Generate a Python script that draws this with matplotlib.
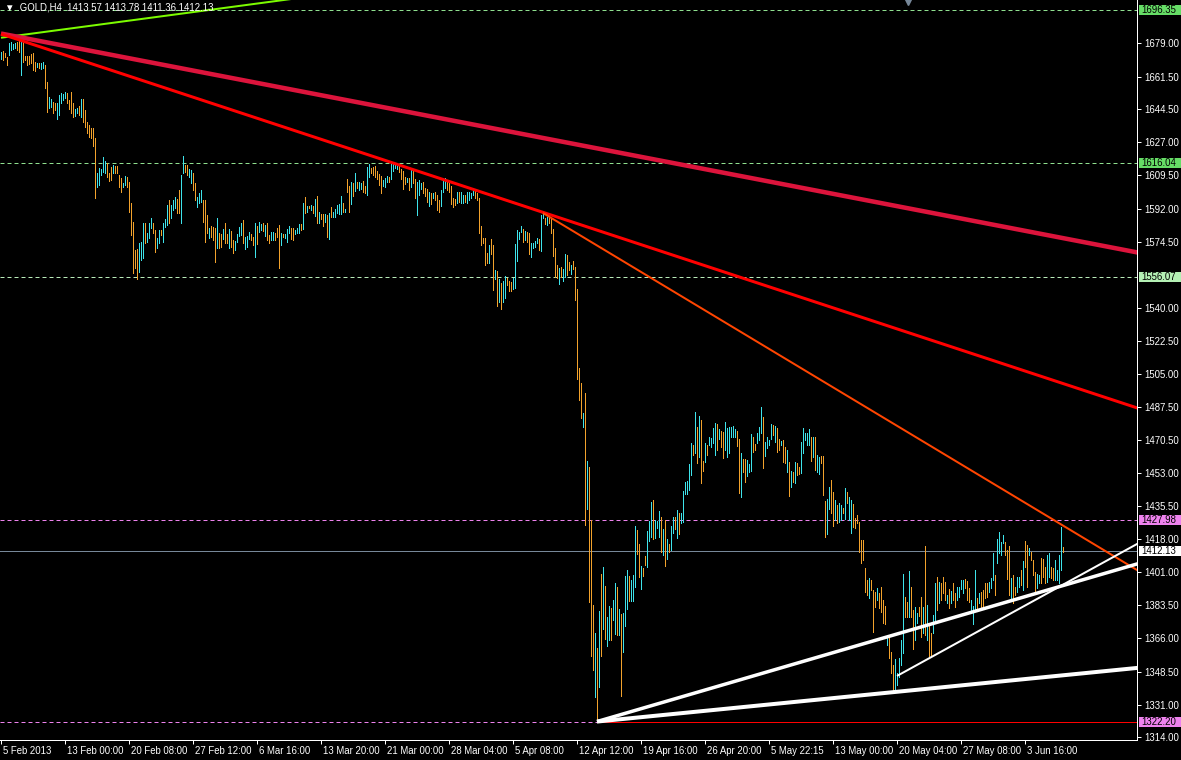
import numpy as np
import matplotlib
matplotlib.use("Agg")
import matplotlib.pyplot as plt
import matplotlib.transforms as mtransforms
from matplotlib.patches import Rectangle

# H4 bars (high / low), U = up bar, D = down bar
highs = [
    1674.2, 1674.9, 1674.0, 1671.9, 1678.9, 1679.6, 1678.6, 1678.9, 1679.6, 1680.7,
    1681.2, 1680.7, 1672.3, 1672.4, 1672.3, 1673.3, 1673.7, 1669.3, 1668.8, 1668.4,
    1668.8, 1669.1, 1667.5, 1658.8, 1650.5, 1649.5, 1648.2, 1647.4, 1647.4, 1651.8,
    1653.0, 1652.3, 1653.3, 1652.6, 1649.1, 1653.3, 1647.4, 1644.2, 1644.9, 1646.0,
    1649.5, 1649.5, 1643.9, 1637.7, 1636.0, 1634.2, 1634.2, 1629.0, 1610.6, 1613.2,
    1612.7, 1619.0, 1617.2, 1615.8, 1610.6, 1614.1, 1614.9, 1614.4, 1614.4, 1609.7,
    1607.9, 1605.3, 1609.2, 1608.8, 1606.2, 1595.1, 1585.2, 1570.2, 1570.6, 1573.7,
    1574.6, 1584.3, 1584.6, 1579.0, 1584.3, 1586.9, 1584.6, 1580.8, 1576.4, 1580.8,
    1580.8, 1584.3, 1586.4, 1593.9, 1596.5, 1593.9, 1596.5, 1598.3, 1596.9, 1601.8,
    1609.7, 1619.7, 1614.9, 1614.9, 1612.7, 1612.3, 1610.6, 1605.3, 1598.3, 1600.0,
    1601.8, 1596.5, 1596.5, 1588.6, 1581.6, 1582.9, 1582.5, 1581.6, 1586.9, 1579.0,
    1578.5, 1581.1, 1584.3, 1578.5, 1581.1, 1580.4, 1575.5, 1575.0, 1578.5, 1582.2,
    1584.3, 1586.0, 1577.3, 1577.6, 1579.5, 1578.7, 1577.3, 1584.3, 1582.9, 1584.8,
    1583.7, 1584.6, 1583.4, 1584.3, 1578.1, 1579.7, 1579.7, 1579.4, 1581.6, 1583.4,
    1579.0, 1578.7, 1578.5, 1581.5, 1582.9, 1582.0, 1581.6, 1580.8, 1581.8, 1583.9,
    1583.9, 1595.1, 1598.3, 1593.4, 1593.4, 1593.9, 1593.4, 1596.9, 1598.6, 1590.2,
    1589.2, 1589.2, 1589.2, 1588.7, 1589.9, 1593.0, 1590.4, 1592.0, 1593.9, 1594.4,
    1598.6, 1595.1, 1591.8, 1607.6, 1604.1, 1606.2, 1605.3, 1610.9, 1606.2, 1605.8,
    1605.3, 1606.7, 1603.9, 1614.1, 1615.5, 1613.5, 1613.7, 1614.4, 1612.0, 1610.2,
    1609.3, 1607.1, 1607.9, 1609.3, 1608.8, 1616.7, 1615.8, 1615.5, 1615.8, 1615.5,
    1612.8, 1611.8, 1608.5, 1607.9, 1607.9, 1613.5, 1612.3, 1607.6, 1606.2, 1607.1,
    1605.7, 1606.2, 1602.7, 1602.2, 1600.9, 1600.0, 1600.0, 1600.9, 1599.2, 1596.5,
    1601.8, 1607.0, 1608.0, 1607.0, 1606.0, 1604.0, 1597.4, 1596.9, 1600.9, 1600.9,
    1600.9, 1599.2, 1599.2, 1600.9, 1600.9, 1600.0, 1602.5, 1601.5, 1600.0, 1597.4,
    1582.9, 1576.7, 1576.4, 1568.8, 1572.9, 1575.9, 1572.9, 1559.7, 1559.2, 1554.8,
    1553.1, 1554.1, 1556.6, 1555.3, 1554.1, 1553.6, 1555.3, 1573.4, 1580.8, 1579.9,
    1582.9, 1581.1, 1580.4, 1579.9, 1579.0, 1573.7, 1574.1, 1575.2, 1576.4, 1575.9,
    1588.7, 1589.5, 1586.9, 1587.8, 1587.4, 1586.4, 1581.1, 1571.1, 1562.4, 1560.6,
    1561.1, 1560.1, 1568.1, 1567.6, 1564.1, 1562.4, 1564.6, 1561.1, 1549.6, 1508.0,
    1500.5, 1484.5, 1495.1, 1459.4, 1456.3, 1428.2, 1383.5, 1368.8, 1361.0, 1380.4,
    1399.8, 1403.7, 1393.5, 1377.4, 1383.0, 1381.8, 1386.2, 1394.9, 1393.2, 1381.4,
    1378.6, 1379.1, 1398.8, 1401.9, 1398.8, 1396.7, 1399.3, 1425.1, 1423.0, 1415.6,
    1404.0, 1402.8, 1409.3, 1422.4, 1427.9, 1437.5, 1438.8, 1428.2, 1427.9, 1433.0,
    1430.0, 1423.5, 1428.2, 1418.2, 1415.6, 1425.1, 1430.0, 1430.0, 1433.5, 1431.7,
    1431.7, 1443.5, 1448.4, 1448.7, 1457.7, 1468.9, 1467.7, 1484.9, 1477.3, 1482.9,
    1480.8, 1459.4, 1468.5, 1467.7, 1472.1, 1471.5, 1476.8, 1479.1, 1478.7, 1475.9,
    1475.0, 1474.7, 1479.6, 1476.4, 1477.3, 1477.3, 1477.7, 1475.9, 1475.2, 1470.7,
    1463.3, 1460.3, 1460.3, 1459.8, 1457.7, 1473.5, 1472.1, 1468.2, 1474.2, 1477.0,
    1487.5, 1482.6, 1469.4, 1472.1, 1470.3, 1478.7, 1478.2, 1477.7, 1476.4, 1470.7,
    1469.9, 1470.3, 1466.8, 1465.0, 1458.9, 1454.2, 1453.6, 1458.9, 1458.0, 1456.3,
    1469.4, 1476.4, 1473.8, 1473.8, 1475.9, 1472.1, 1472.1, 1472.1, 1462.4, 1461.5,
    1461.9, 1461.9, 1438.2, 1439.1, 1445.8, 1449.3, 1442.8, 1438.7, 1436.1, 1437.0,
    1436.1, 1434.4, 1444.9, 1443.1, 1440.5, 1438.7, 1436.5, 1429.1, 1430.9, 1427.3,
    1417.7, 1417.7, 1402.8, 1396.7, 1397.6, 1396.7, 1391.4, 1390.5, 1392.3, 1389.7,
    1392.8, 1386.2, 1383.0, 1367.7, 1366.0, 1359.0, 1352.0, 1355.0, 1347.6, 1355.5,
    1365.1, 1399.8, 1387.9, 1385.3, 1401.6, 1393.2, 1380.9, 1382.6, 1379.1, 1382.6,
    1387.6, 1382.6, 1414.7, 1383.5, 1373.5, 1368.6, 1378.3, 1395.3, 1398.1, 1395.8,
    1394.9, 1398.1, 1395.8, 1388.8, 1391.8, 1391.1, 1395.3, 1389.7, 1392.8, 1392.8,
    1396.7, 1396.7, 1397.0, 1396.3, 1392.3, 1386.2, 1383.0, 1401.9, 1387.0, 1390.0,
    1390.5, 1391.4, 1394.9, 1395.3, 1395.8, 1397.6, 1410.7, 1399.3, 1418.1, 1422.1,
    1416.8, 1420.4, 1416.8, 1412.5, 1414.3, 1397.6, 1399.3, 1393.2, 1398.4, 1398.4,
    1401.9, 1406.8, 1417.4, 1415.1, 1413.7, 1411.6, 1407.2, 1401.1, 1399.8, 1399.3,
    1408.1, 1407.5, 1403.7, 1409.8, 1410.7, 1403.7, 1402.8, 1407.2, 1401.9, 1409.8,
    1424.4, 1413.8,
]
lows = [
    1670.7, 1670.2, 1671.9, 1667.5, 1672.8, 1675.4, 1675.8, 1676.3, 1675.4, 1674.5,
    1662.3, 1669.3, 1670.2, 1667.5, 1668.1, 1668.4, 1664.9, 1664.6, 1666.3, 1665.8,
    1665.6, 1666.1, 1655.3, 1643.0, 1644.7, 1645.6, 1642.5, 1643.9, 1639.0, 1641.2,
    1647.4, 1649.1, 1650.0, 1647.4, 1644.2, 1642.1, 1640.0, 1640.7, 1642.1, 1641.2,
    1640.4, 1637.7, 1635.1, 1632.0, 1629.8, 1629.0, 1624.9, 1597.4, 1603.5, 1604.4,
    1609.7, 1611.4, 1610.6, 1608.8, 1606.7, 1607.1, 1610.6, 1610.6, 1610.6, 1603.5,
    1600.9, 1603.5, 1604.4, 1603.5, 1590.4, 1578.1, 1558.0, 1560.6, 1554.8, 1558.8,
    1565.0, 1565.9, 1573.7, 1574.6, 1576.4, 1581.6, 1579.0, 1569.4, 1571.1, 1573.7,
    1578.1, 1574.6, 1582.5, 1583.4, 1584.3, 1586.9, 1591.3, 1592.2, 1589.5, 1589.5,
    1584.3, 1610.6, 1611.4, 1609.7, 1608.8, 1605.3, 1601.8, 1596.5, 1593.0, 1594.8,
    1595.7, 1585.2, 1574.6, 1579.0, 1576.4, 1577.2, 1575.5, 1564.1, 1571.1, 1571.1,
    1571.6, 1576.0, 1573.7, 1574.1, 1571.5, 1571.6, 1568.8, 1570.2, 1574.6, 1577.6,
    1578.1, 1573.7, 1570.9, 1571.6, 1576.2, 1575.5, 1572.9, 1566.7, 1573.4, 1579.9,
    1580.8, 1580.4, 1577.6, 1575.5, 1574.1, 1575.5, 1575.5, 1575.5, 1577.3, 1560.9,
    1572.9, 1576.9, 1576.6, 1574.6, 1579.4, 1575.9, 1575.5, 1578.7, 1579.0, 1579.4,
    1580.8, 1581.3, 1589.9, 1590.4, 1592.2, 1591.3, 1589.9, 1588.1, 1584.6, 1584.6,
    1586.5, 1583.0, 1584.8, 1576.9, 1576.0, 1587.4, 1587.4, 1587.8, 1589.9, 1589.2,
    1589.2, 1590.4, 1590.4, 1600.9, 1590.4, 1594.4, 1598.6, 1601.4, 1602.7, 1601.8,
    1602.2, 1600.9, 1600.4, 1599.2, 1608.8, 1610.6, 1609.7, 1608.5, 1607.4, 1604.4,
    1600.4, 1603.9, 1603.6, 1606.2, 1606.2, 1607.4, 1612.0, 1613.2, 1612.7, 1611.4,
    1607.4, 1602.3, 1605.0, 1606.2, 1601.8, 1603.6, 1605.7, 1597.8, 1588.7, 1599.2,
    1602.3, 1600.0, 1598.8, 1595.7, 1593.6, 1594.4, 1597.4, 1596.5, 1591.3, 1590.4,
    1593.4, 1601.0, 1603.0, 1602.0, 1601.0, 1594.4, 1593.0, 1593.9, 1594.8, 1595.7,
    1594.8, 1594.8, 1595.7, 1594.8, 1596.5, 1597.4, 1599.2, 1597.4, 1596.5, 1579.0,
    1572.9, 1573.7, 1562.4, 1563.6, 1563.6, 1568.1, 1549.2, 1554.8, 1540.8, 1543.1,
    1539.2, 1543.1, 1544.8, 1551.8, 1548.9, 1548.9, 1549.6, 1550.1, 1564.6, 1575.9,
    1579.9, 1574.6, 1575.5, 1574.6, 1568.1, 1566.7, 1571.1, 1572.0, 1573.7, 1570.2,
    1569.9, 1586.9, 1583.9, 1583.4, 1584.3, 1579.0, 1567.1, 1556.2, 1555.3, 1552.4,
    1556.2, 1554.1, 1555.9, 1557.1, 1559.7, 1557.6, 1560.1, 1543.9, 1502.2, 1491.3,
    1481.7, 1477.2, 1425.6, 1433.9, 1385.3, 1356.5, 1349.3, 1335.3, 1322.2, 1340.2,
    1356.7, 1370.7, 1365.6, 1362.1, 1365.1, 1365.1, 1375.6, 1368.1, 1367.7, 1367.7,
    1335.8, 1359.0, 1372.5, 1381.4, 1385.8, 1385.6, 1385.6, 1393.2, 1410.3, 1398.4,
    1391.8, 1398.8, 1404.6, 1403.7, 1417.4, 1419.5, 1418.2, 1419.0, 1424.2, 1419.5,
    1411.6, 1409.8, 1404.2, 1407.6, 1411.6, 1412.5, 1421.2, 1423.5, 1419.0, 1420.9,
    1426.5, 1427.0, 1441.7, 1441.7, 1444.0, 1451.9, 1462.4, 1463.3, 1458.4, 1461.5,
    1447.9, 1454.2, 1458.9, 1462.4, 1467.7, 1466.8, 1468.5, 1462.4, 1465.0, 1470.7,
    1466.8, 1460.7, 1465.0, 1461.5, 1463.6, 1472.1, 1471.7, 1471.7, 1467.1, 1442.6,
    1440.1, 1453.6, 1448.4, 1451.4, 1453.6, 1454.2, 1464.2, 1465.0, 1468.5, 1470.3,
    1473.8, 1455.7, 1462.1, 1465.9, 1467.7, 1470.7, 1472.9, 1469.4, 1464.2, 1465.0,
    1467.7, 1458.9, 1458.0, 1453.6, 1440.8, 1445.8, 1448.4, 1447.5, 1451.9, 1452.4,
    1452.8, 1463.3, 1470.3, 1467.7, 1467.7, 1459.4, 1461.5, 1454.5, 1453.6, 1452.4,
    1458.4, 1441.4, 1419.5, 1420.9, 1433.8, 1431.7, 1425.1, 1428.2, 1426.5, 1427.3,
    1428.2, 1432.1, 1428.6, 1437.0, 1428.2, 1421.2, 1424.7, 1423.8, 1426.8, 1411.6,
    1405.4, 1407.2, 1390.5, 1388.8, 1387.0, 1391.4, 1369.5, 1382.6, 1386.2, 1381.8,
    1380.0, 1373.9, 1373.5, 1362.5, 1355.5, 1347.6, 1338.8, 1338.8, 1341.4, 1345.8,
    1352.0, 1358.5, 1377.4, 1377.4, 1377.4, 1377.4, 1360.2, 1365.1, 1373.9, 1377.7,
    1366.9, 1368.6, 1367.7, 1365.1, 1356.3, 1357.2, 1368.6, 1375.6, 1380.9, 1384.4,
    1386.2, 1389.7, 1386.2, 1384.4, 1381.8, 1384.4, 1386.2, 1382.6, 1386.2, 1387.9,
    1391.8, 1389.7, 1392.3, 1386.2, 1385.3, 1379.2, 1373.5, 1380.9, 1380.9, 1384.4,
    1380.9, 1382.3, 1387.0, 1387.9, 1390.5, 1392.3, 1396.7, 1388.8, 1405.4, 1410.7,
    1409.8, 1416.0, 1409.8, 1397.0, 1388.8, 1386.5, 1384.4, 1388.8, 1390.5, 1393.2,
    1394.0, 1391.4, 1403.7, 1393.2, 1409.8, 1407.2, 1399.3, 1389.7, 1392.3, 1394.9,
    1394.9, 1398.4, 1394.9, 1395.8, 1398.4, 1397.6, 1396.7, 1396.7, 1396.7, 1394.9,
    1401.9, 1411.4,
]
dirs = "".join([
    "UDDDUUUUDD", "UDDDDDDDUD", "UUDDUUDDUU", "UUUDDDDUUD", "UDDDDDDDUU",
    "UUUDDDUDDD", "DUUDDDDDDU", "UUDUUUDDUU", "DUUUDUUUDD", "UUDDUUDDUU",
    "UDDDUDDDUD",
    "DUDDUDDUUU", "UDUUUDDUDU", "UDUDDUUDDD", "UDUUUDDUUU", "DUDUDUDUDU",
    "DDUDUDUUUU", "UDUDDUDUDU", "UDDUUDDDDD", "DUUUDUUUUD", "DDDUDUDDUU",
    "UDDDU",
    "DUDDDUUUDD", "DDDUDUUDUU", "UUDDDDDDDU", "DDUDUDUUDD", "DUUUUUDUDD",
    "UUUUDUUDUD", "DDDDUDUUDD", "UDDDDDUDUD", "DDUDU",
    "DUDUUDUUDU", "DUUUDUUUDD", "UDDUUUDUUU", "DUDUDUUDUD", "UUUUU",
    "UDUDUDDUDU", "UUUDUDDUUU", "UUUDDUDDUU", "UDDUUUDUUU", "UDUDDUDDUD",
    "UDUDDUUUUU", "DUDUUDDDUU", "DDUDUUDUDU", "UDDDD",
    "DDDDUDDDUD", "DDDUDDDUUU", "UUDDUDDUUD", "DUDUDDUUDU", "DDDUDUDDUU",
    "UUDDDUUUDU", "DDDDUUUDUU", "UUDDDUDDUU", "DUDDUDDDUU", "DDDUUDDUUU",
    "UD",
])

date_labels = ["5 Feb 2013", "13 Feb 00:00", "20 Feb 08:00", "27 Feb 12:00", "6 Mar 16:00",
               "13 Mar 20:00", "21 Mar 00:00", "28 Mar 04:00", "5 Apr 08:00", "12 Apr 12:00",
               "19 Apr 16:00", "26 Apr 20:00", "5 May 22:15", "13 May 00:00", "20 May 04:00",
               "27 May 08:00", "3 Jun 16:00"]
label_step = 32

price_ticks = [1679.00, 1661.50, 1644.50, 1627.00, 1609.50, 1592.00, 1574.50, 1540.00,
               1522.50, 1505.00, 1487.50, 1470.50, 1453.00, 1435.50, 1418.00, 1401.00,
               1383.50, 1366.00, 1348.50, 1331.00, 1314.00]

# horizontal levels and their colours
levels = [1696.35, 1616.04, 1556.07, 1427.98, 1412.13, 1322.20]
level_line = ['#8FE08F', '#8FE08F', '#B9EBB9', '#EE82EE', '#778899', '#EE82EE']
level_box = ['#66DD66', '#66DD66', '#B4F0B4', '#EE82EE', '#FFFFFF', '#EE82EE']

# trend lines: (bar0, price0, bar1, price1)
green_line = (0, 1681.9, 141, 1701.7)
crimson_line = (0, 1684.1, 568, 1569.0)
red_line = (0, 1683.9, 568, 1487.2)
orange_line = (271, 1589.7, 568, 1401.9)
white_low = (298, 1322.2, 568, 1350.4)
white_mid = (298, 1322.2, 568, 1405.1)
white_thin = (448, 1346.2, 568, 1415.6)

W, H = 1181, 760
fig = plt.figure(figsize=(W / 100, H / 100), dpi=100, facecolor='black')
ax = fig.add_axes([0, 20 / H, 1137 / W, 740 / H], facecolor='black')
px = 0.72  # one pixel in points

xmax = 568
ax.set_xlim(-0.5, xmax)
ax.set_ylim(1312.5, 1701.75)
per_px = (1701.75 - 1312.5) / 740  # price units per pixel

# horizontal levels
for p, lc in zip(levels, level_line):
    if p == 1412.13:
        ax.axhline(p, color=lc, lw=px, zorder=1)
    else:
        ax.axhline(p, color=lc, lw=px, ls=(0, (4, 3)), zorder=1)
ax.plot([298, xmax], [1322.20, 1322.20], color='#FF0000', lw=px, zorder=2)

# bars
n = min(len(highs), len(lows), len(dirs))
idx = np.arange(n)
hi = np.array(highs[:n])
lo = np.array(lows[:n])
up = np.array([c == 'U' for c in dirs[:n]])
ax.vlines(idx[up], lo[up], hi[up], color='#3EE3EA', lw=px, antialiased=False, zorder=3)
ax.vlines(idx[~up], lo[~up], hi[~up], color='#F2A22C', lw=px, antialiased=False, zorder=3)


def ray(line, color, width):
    b0, p0, b1, p1 = line
    slope = (p1 - p0) / (b1 - b0)
    ax.plot([b0, xmax + 5], [p0, p0 + slope * (xmax + 5 - b0)], color=color,
            lw=width * px, solid_capstyle='butt', zorder=4)


ray(green_line, '#7CFC00', 2)
ray(crimson_line, '#DC143C', 4.5)
ray(red_line, '#FF0000', 3)
ray(orange_line, '#FF4500', 2)
ray(white_low, '#FFFFFF', 4)
ray(white_mid, '#FFFFFF', 3.5)
ray(white_thin, '#FFFFFF', 2)

# axes frame
for s in ['top', 'left']:
    ax.spines[s].set_visible(False)
for s in ['right', 'bottom']:
    ax.spines[s].set_color('white')
    ax.spines[s].set_linewidth(px)

font = 'Liberation Sans'
ax.yaxis.tick_right()
ax.set_yticks(price_ticks)
ax.set_yticklabels(['%.2f' % t for t in price_ticks], fontsize=6.9, family=font, color='white')
ax.tick_params(axis='y', colors='white', length=3, width=px, pad=2)

ax.set_xticks(np.arange(len(date_labels)) * label_step)
ax.set_xticklabels(date_labels, fontsize=6.9, family=font, color='white', ha='left')
ax.tick_params(axis='x', colors='white', length=3, width=px, pad=1)
for lab in ax.get_xticklabels():
    lab.set_transform(lab.get_transform() + mtransforms.ScaledTranslation(2 / 100, 0, fig.dpi_scale_trans))

# level labels on the price scale
trans = mtransforms.blended_transform_factory(ax.transAxes, ax.transData)
x0 = 1139 / 1137
box_w = (W - 1139) / 1137
for p, bg in zip(levels, level_box):
    ax.add_patch(Rectangle((x0, p - 5 * per_px), box_w, 10 * per_px, transform=trans,
                           facecolor=bg, edgecolor='none', clip_on=False, zorder=9))
    ax.text(1141 / 1137, p, '%.2f' % p, transform=trans, fontsize=6.9, family=font,
            color='black', va='center', ha='left', zorder=10, clip_on=False)

# title and shift marker
ax.text(0.004, 0.997, u'\u25bc .GOLD,H4  1413.57 1413.78 1411.36 1412.13', transform=ax.transAxes,
        fontsize=6.9, family=[font, 'DejaVu Sans'], color='white', va='top', ha='left', zorder=10)
ax.plot([908 / 1137], [1 - 2 / 740], marker='v', markersize=5, color='#778899',
        transform=ax.transAxes, clip_on=False, zorder=10)

fig.savefig('out.png', dpi=100, facecolor='black')
